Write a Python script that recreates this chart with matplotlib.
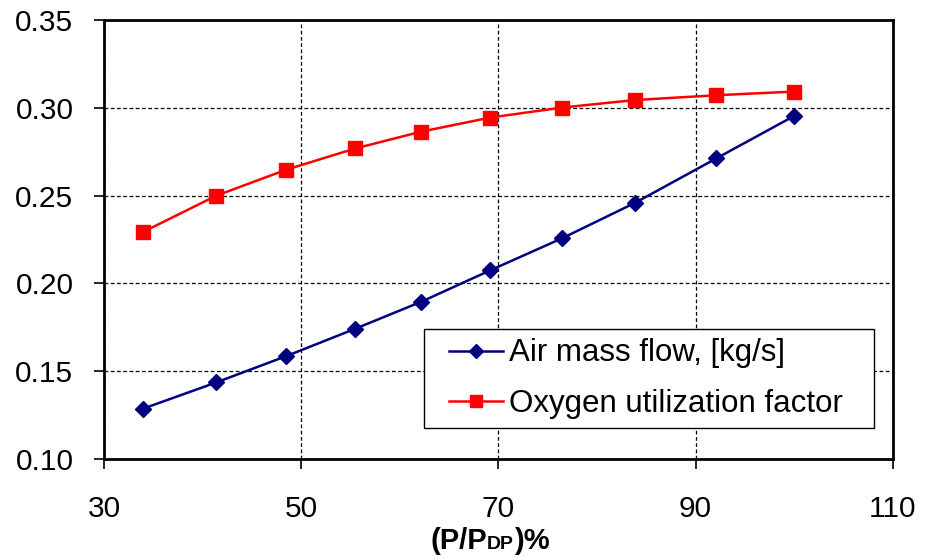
import matplotlib
matplotlib.use("Agg")
import matplotlib.pyplot as plt
from matplotlib.patches import Rectangle
from matplotlib.offsetbox import TextArea, HPacker, AnchoredOffsetbox

plt.rcParams['font.family'] = ['Liberation Sans', 'DejaVu Sans']

# load ratio (P/P_DP) in %
load_pct = [34.0, 41.4, 48.5, 55.5, 62.2, 69.2, 76.5, 83.9, 92.1, 100.0]
# air mass flow [kg/s]
air_flow = [0.1287, 0.1436, 0.1586, 0.1742, 0.1896, 0.2075, 0.2258, 0.2460, 0.2712, 0.2954]
# oxygen utilization factor
o2_util = [0.2294, 0.2500, 0.2648, 0.2769, 0.2865, 0.2945, 0.3002, 0.3045, 0.3072, 0.3093]

x_ticks = [30, 50, 70, 90, 110]
y_ticks = [0.10, 0.15, 0.20, 0.25, 0.30, 0.35]

fig = plt.figure(figsize=(9.28, 5.59), dpi=100)
ax = fig.add_axes([0.112, 0.179, 0.850, 0.785])

ax.plot(load_pct, air_flow, color='#000080', lw=1.8, marker='D', markersize=8.5,
        label='Air mass flow, [kg/s]')
ax.plot(load_pct, o2_util, color='#FF0000', lw=1.8, marker='s', markersize=10,
        label='Oxygen utilization factor')

ax.set_xlim(30, 110)
ax.set_ylim(0.10, 0.35)
ax.set_xticks(x_ticks)
ax.set_yticks(y_ticks)
ax.set_yticklabels([f"{v:.2f}" for v in y_ticks])
ax.tick_params(labelsize=21.5, length=7, width=1.2, direction='out')
ax.tick_params(axis='x', pad=19)
ax.tick_params(axis='y', pad=15)

ax.grid(True, color='black', linestyle=(0, (3, 2)), lw=0.9)
ax.set_axisbelow(True)
for s in ax.spines.values():
    s.set_linewidth(2)
    s.set_color('black')

# x label with small, non-lowered "DP"
bold = dict(fontweight='bold', color='black')
label = HPacker(children=[TextArea('(P/P', textprops=dict(fontsize=21, **bold)),
                          TextArea('DP', textprops=dict(fontsize=14, **bold)),
                          TextArea(')%', textprops=dict(fontsize=21, **bold))],
                align='baseline', pad=0, sep=0)
fig.add_artist(AnchoredOffsetbox(loc='center', child=label, pad=0, borderpad=0,
                                 frameon=False, bbox_to_anchor=(0.528, 0.032),
                                 bbox_transform=fig.transFigure))

# legend box
ax.add_patch(Rectangle((0.4056, 0.0706), 0.5703, 0.2255, transform=ax.transAxes,
                       facecolor='white', edgecolor='black', lw=1.0, zorder=4.5))
ax.legend(loc='center left', bbox_to_anchor=(0.438, 0.183), borderaxespad=0,
          borderpad=0, fontsize=22.5, frameon=False, handlelength=1.7,
          handletextpad=0.2, labelspacing=0.65, markerscale=0.8)

fig.savefig('out.png', dpi=100)
